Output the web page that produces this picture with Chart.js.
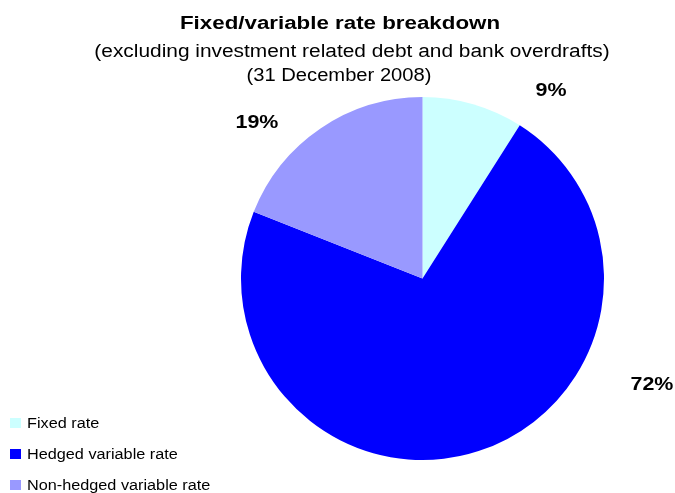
<!DOCTYPE html>
<html>
<head>
<meta charset="utf-8">
<script src="https://cdn.jsdelivr.net/npm/chart.js@4"></script>
<style>
    html, body { margin: 0; padding: 0; background: #fff; }
    #wrap { position: relative; width: 675px; height: 493px; }
</style>
</head>
<body>
<div id="wrap"><canvas id="chart"></canvas></div>
<script>
const categories = ["Fixed rate", "Hedged variable rate", "Non-hedged variable rate"];
const shares = [9, 72, 19];
const colors = ["#CCFFFF", "#0000FF", "#9999FF"];

const title = "Fixed/variable rate breakdown";
const subtitles = [
    "(excluding investment related debt and bank overdrafts)",
    "(31 December 2008)"
];

// label baselines, relative to pie centre in units of radius
const labelOffsets = [[0.708, -1.006], [1.264, 0.614], [-0.912, -0.829]];

const font = "'Liberation Sans', Arial, sans-serif";

// the original text is a bit wider than plain Arial, so stretch it
function stretchedText(ctx, text, x, y, sx) {
    ctx.save();
    ctx.translate(x, y);
    ctx.scale(sx, 1);
    ctx.fillText(text, 0, 0);
    ctx.restore();
}

const decorations = {
    id: "decorations",
    afterDraw(chart) {
        const ctx = chart.ctx;
        const arc = chart.getDatasetMeta(0).data[0];
        const cx = arc.x, cy = arc.y, r = arc.outerRadius;
        ctx.save();
        ctx.fillStyle = "#000";
        ctx.textAlign = "center";
        ctx.textBaseline = "alphabetic";

        ctx.font = "bold 18px " + font;
        stretchedText(ctx, title, 340, 29, 1.24);
        ctx.font = "18px " + font;
        stretchedText(ctx, subtitles[0], 352, 57, 1.16);
        stretchedText(ctx, subtitles[1], 339, 81, 1.12);

        ctx.font = "bold 18px " + font;
        shares.forEach((v, i) => {
            const [dx, dy] = labelOffsets[i];
            stretchedText(ctx, v + "%", cx + dx * r, cy + dy * r, 1.19);
        });

        ctx.textAlign = "left";
        ctx.font = "14px " + font;
        categories.forEach((name, i) => {
            const y = 428 + i * 31;
            ctx.fillStyle = colors[i];
            ctx.fillRect(10, y - 10, 11, 10);
            ctx.fillStyle = "#000";
            stretchedText(ctx, name, 27, y, 1.16);
        });
        ctx.restore();
    }
};

new Chart(document.getElementById("chart"), {
    type: "pie",
    data: {
        labels: categories,
        datasets: [{
            data: shares,
            backgroundColor: colors,
            borderWidth: 0
        }]
    },
    options: {
        responsive: true,
        maintainAspectRatio: false,
        animation: false,
        layout: {
            padding: { left: 241, right: 71, top: 97, bottom: 33 }
        },
        plugins: {
            legend: { display: false },
            tooltip: { enabled: false },
            title: { display: false }
        }
    },
    plugins: [decorations]
});
</script>
</body>
</html>
